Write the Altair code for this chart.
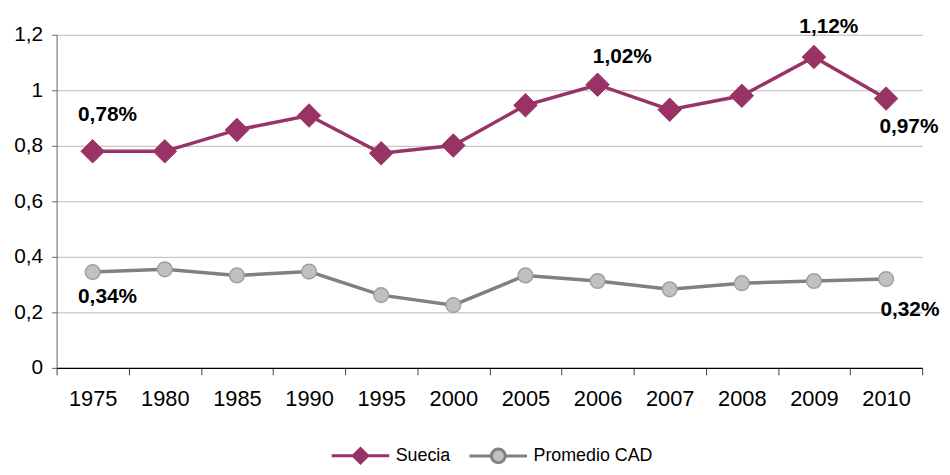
import altair as alt
import pandas as pd

years = ["1975", "1980", "1985", "1990", "1995", "2000", "2005", "2006", "2007", "2008", "2009", "2010"]
suecia = [0.78, 0.78, 0.857, 0.909, 0.773, 0.801, 0.946, 1.02, 0.93, 0.98, 1.12, 0.97]
cad = [0.345, 0.355, 0.333, 0.347, 0.262, 0.226, 0.333, 0.313, 0.283, 0.305, 0.313, 0.32]
series = ["Suecia", "Promedio CAD"]

# data labels: (series, year, text, dx, dy)
label_series = ["Suecia", "Suecia", "Suecia", "Suecia", "Promedio CAD", "Promedio CAD"]
label_years = ["1975", "2006", "2009", "2010", "1975", "2010"]
label_texts = ["0,78%", "1,02%", "1,12%", "0,97%", "0,34%", "0,32%"]
label_dx = [15, 25, 15, 23, 15, 24]
label_dy = [-37, -28, -30, 29, 25, 31]

PURPLE = "#993366"
GRAY = "#808080"
LIGHT = "#C0C0C0"
FONT = "Liberation Sans"

rows = []
for y, v in zip(years, suecia):
    rows.append({"year": y, "serie": "Suecia", "value": v})
for y, v in zip(years, cad):
    rows.append({"year": y, "serie": "Promedio CAD", "value": v})
df = pd.DataFrame(rows)

x_enc = alt.X(
    "year:N", sort=years, title=None,
    scale=alt.Scale(type="band", paddingInner=0, paddingOuter=0),
    axis=alt.Axis(
        labelAngle=0, labelFont=FONT, labelFontSize=22, labelColor="#000000",
        tickBand="extent", tickSize=7, tickColor="#404040", domainColor="#000000",
        domainWidth=1.2, labelPadding=14, grid=False,
    ),
)
y_enc = alt.Y(
    "value:Q", title=None,
    scale=alt.Scale(domain=[0, 1.2], nice=False),
    axis=alt.Axis(
        values=[0, 0.2, 0.4, 0.6, 0.8, 1.0, 1.2],
        labelExpr="replace(format(datum.value, '.1~f'), '.', ',')",
        labelFont=FONT, labelFontSize=21, labelColor="#000000",
        tickSize=5, tickColor="#606060", domainColor="#606060",
        labelPadding=9, grid=True, gridColor="#B8B8B8", gridWidth=1,
    ),
)

base = alt.Chart(df)

line_s = base.transform_filter(alt.datum.serie == "Suecia").mark_line(
    color=PURPLE, strokeWidth=3.5).encode(x=x_enc, y=y_enc)
line_c = base.transform_filter(alt.datum.serie == "Promedio CAD").mark_line(
    color=GRAY, strokeWidth=3.5).encode(x=x_enc, y=y_enc)
pts_s = base.transform_filter(alt.datum.serie == "Suecia").mark_point(
    shape="diamond", filled=True, fill=PURPLE, stroke=PURPLE, strokeWidth=1,
    size=560, opacity=1).encode(x=x_enc, y=y_enc)
pts_c = base.transform_filter(alt.datum.serie == "Promedio CAD").mark_point(
    shape="circle", filled=True, fill=LIGHT, stroke="#A0A0A0", strokeWidth=1.5,
    size=220, opacity=1).encode(x=x_enc, y=y_enc)

diamond_path = "M-1,0H-0.24M0.24,0H1M0,-0.25L0.25,0L0,0.25L-0.25,0Z"
circle_path = ("M-1,0H-0.24M0.24,0H1M0.24,0A0.24,0.24 0 1,1 -0.24,0"
               "A0.24,0.24 0 1,1 0.24,0Z")

leg = alt.Legend(title=None, orient="none", legendX=276, legendY=394,
                 direction="horizontal")
legend_layer = base.mark_point(filled=True, opacity=0).encode(
    x=x_enc, y=y_enc,
    fill=alt.Fill("serie:N", scale=alt.Scale(domain=series, range=[PURPLE, LIGHT]),
                  legend=leg),
    stroke=alt.Stroke("serie:N", scale=alt.Scale(domain=series, range=[PURPLE, GRAY]),
                      legend=leg),
    shape=alt.Shape("serie:N", scale=alt.Scale(domain=series, range=[diamond_path, circle_path]),
                    legend=leg),
)

label_layers = []
for s, yr, t, dx, dy in zip(label_series, label_years, label_texts, label_dx, label_dy):
    label_layers.append(
        base.transform_filter((alt.datum.serie == s) & (alt.datum.year == yr))
        .transform_calculate(lbl=f"'{t}'")
        .mark_text(font=FONT, fontSize=21, fontWeight="bold", color="#000000",
                   align="center", baseline="middle", dx=dx, dy=dy)
        .encode(x=x_enc, y=y_enc, text="lbl:N")
    )

chart = alt.layer(
    legend_layer, line_c, line_s, pts_c, pts_s, *label_layers
).properties(
    width=873, height=336,
    autosize=alt.AutoSizeParams(type="none"),
    padding={"left": 49, "top": 25, "right": 20, "bottom": 98},
).configure_view(stroke=None).configure_legend(
    labelFont=FONT, labelFontSize=18,
    labelColor="#000000", symbolSize=3364, symbolStrokeWidth=3, symbolOpacity=1,
    labelOffset=5, columnPadding=12, padding=0,
)

chart.save("out.html", embed_options={"renderer": "svg", "actions": False})
